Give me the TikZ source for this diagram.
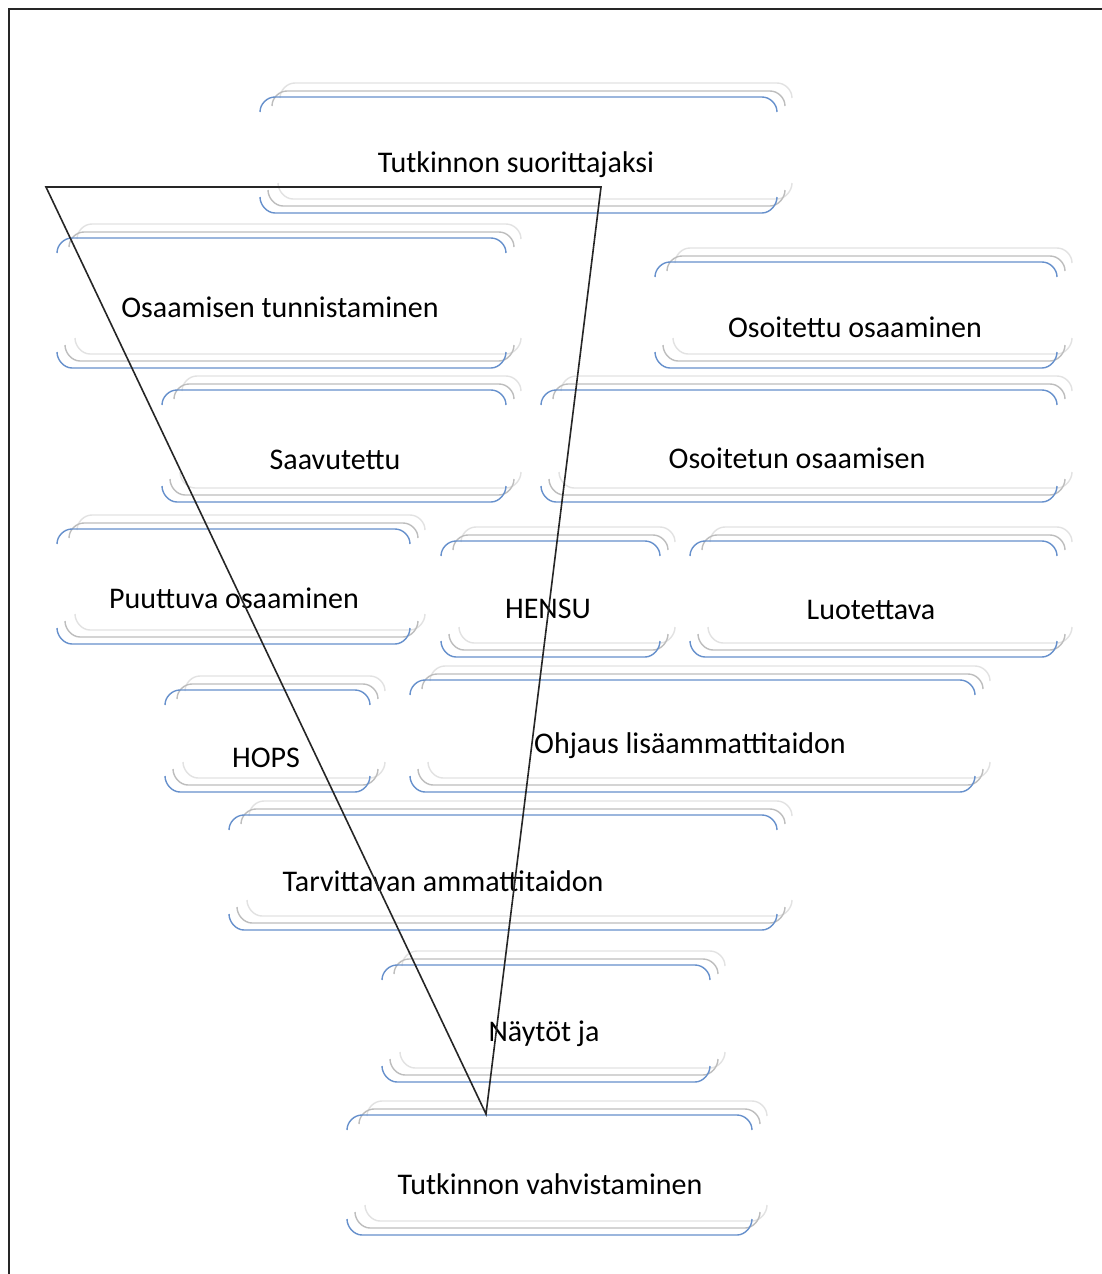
\documentclass[tikz,border=0pt]{standalone}
\usepackage{fontspec}
\setmainfont{Carlito}
\definecolor{bblue}{HTML}{6690CC}
\definecolor{mgrey}{HTML}{BDBDBD}
\definecolor{lgrey}{HTML}{E2E2E2}
\tikzset{
  blueline/.style={draw=bblue,line width=1.4pt},
  greyline/.style={draw=mgrey,line width=1.4pt},
  lightline/.style={draw=lgrey,line width=1.4pt},
  lbl/.style={font=\fontsize{30}{34}\selectfont,inner sep=0pt,anchor=center},
  tri/.style={draw=black!85,line width=1.6pt,line join=miter}
}
\newcommand\topedge[4]{% style, xa, xb, y
  \draw[#1] ({#2},{#4+15}) .. controls ({#2},{#4+7}) and ({#2+7},{#4}) .. ({#2+15},{#4}) -- ({#3-15},{#4}) .. controls ({#3-7},{#4}) and ({#3},{#4+7}) .. ({#3},{#4+15});}
\newcommand\botedge[4]{% style, xa, xb, y
  \draw[#1] ({#2},{#4-16}) .. controls ({#2},{#4-8}) and ({#2+7},{#4}) .. ({#2+15},{#4}) -- ({#3-15},{#4}) .. controls ({#3-7},{#4}) and ({#3},{#4-8}) .. ({#3},{#4-16});}
\newcommand\bracketbox[4]{% x1, x2, yt, yb
  \topedge{lightline}{#1+20}{#2+15}{#3-14}
  \topedge{greyline}{#1+12}{#2+8}{#3-6}
  \topedge{blueline}{#1}{#2}{#3}
  \botedge{lightline}{#1+18}{#2+15}{#4-14}
  \botedge{greyline}{#1+8}{#2+8}{#4-7}
  \botedge{blueline}{#1}{#2}{#4}}
\begin{document}
\begin{tikzpicture}[x=1pt,y=-1pt]
\useasboundingbox (0,0) rectangle (1101,1274);
\fill[white] (0,0) rectangle (1101,1274);
\draw[black!85,line width=1.8pt] (1120,9) -- (9,9) -- (9,1290);
% boxes
\bracketbox{260}{777}{97}{213}
\bracketbox{57}{506}{238}{368}
\bracketbox{655}{1057}{262}{368}
\bracketbox{162}{506}{390}{502}
\bracketbox{541}{1057}{390}{502}
\bracketbox{57}{410}{529}{644}
\bracketbox{441}{660}{541}{657}
\bracketbox{690}{1057}{541}{657}
\bracketbox{165}{370}{690}{792}
\bracketbox{410}{975}{680}{792}
\bracketbox{229}{777}{815}{930}
\bracketbox{382}{710}{965}{1082}
\bracketbox{347}{752}{1115}{1235}
% labels
\node[lbl] (t1) at (516,165) {Tutkinnon suorittajaksi};
\node[lbl] (t2) at (280,307) {Osaamisen tunnistaminen};
\node[lbl] (t3) at (855,327) {Osoitettu osaaminen};
\node[lbl] (t4) at (335,460) {Saavutettu};
\node[lbl] (t5) at (797,458) {Osoitetun osaamisen};
\node[lbl] (t6) at (234,598) {Puuttuva osaaminen};
\node[lbl] (t7) at (548,609) {HENSU};
\node[lbl] (t8) at (871,610) {Luotettava};
\node[lbl] (t9) at (266,758) {HOPS};
\node[lbl] (t10) at (690,746) {Ohjaus lisäammattitaidon};
\node[lbl] (t11) at (443,881) {Tarvittavan ammattitaidon};
\node[lbl] (t12) at (544,1034) {Näytöt ja};
\node[lbl] (t13) at (550,1184) {Tutkinnon vahvistaminen};
% triangle
\coordinate (ta) at (46,187);
\coordinate (tb) at (601,187);
\coordinate (tc) at (486,1114);
\draw[tri] (ta) -- (tb) -- (tc) -- cycle;
\end{tikzpicture}
\end{document}
